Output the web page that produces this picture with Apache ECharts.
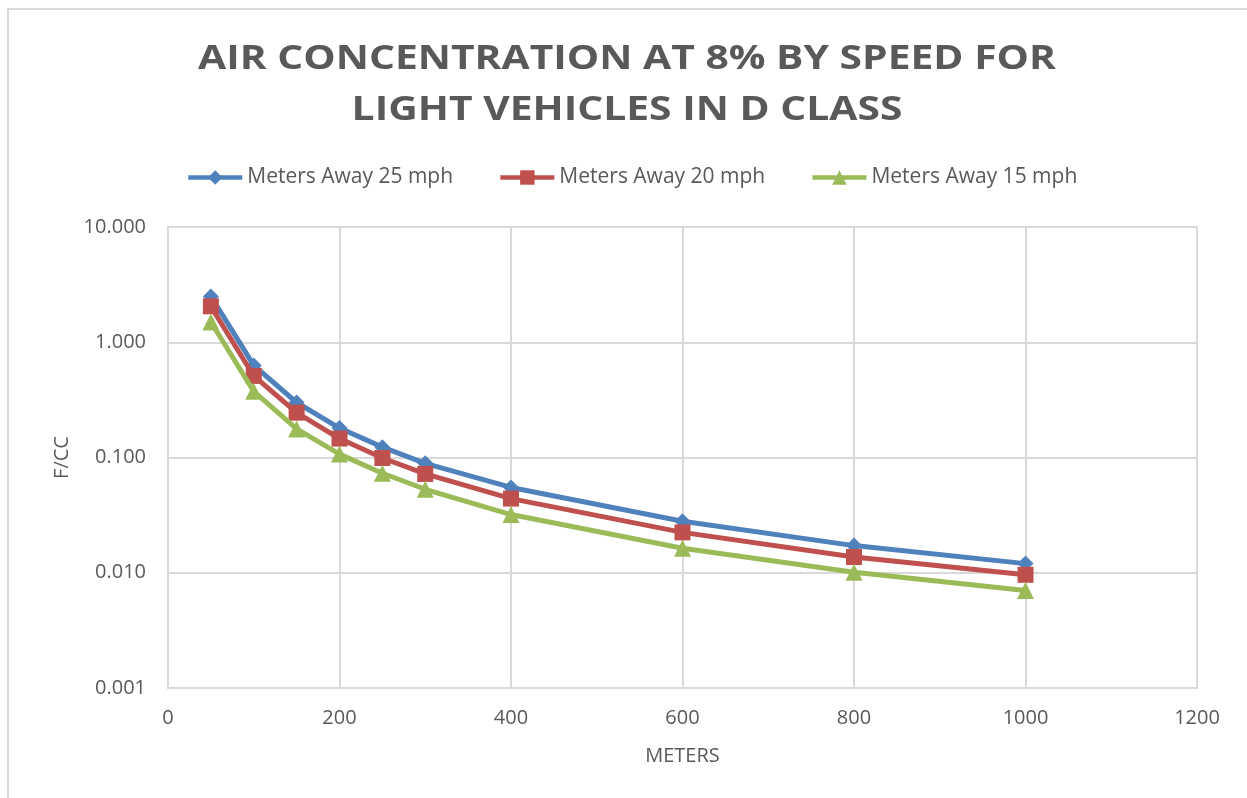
<!DOCTYPE html>
<html>
<head>
<meta charset="utf-8">
<title>Air concentration by speed</title>
<script src="https://cdn.jsdelivr.net/npm/echarts@6/dist/echarts.min.js"></script>
<style>
  html, body { margin: 0; padding: 0; background: #fff; }
  #main { width: 1247px; height: 798px; }
</style>
</head>
<body>
<div id="main"></div>
<script>
// distances in meters
const meters = [50, 100, 150, 200, 250, 300, 400, 600, 800, 1000];
// F/CC
const mph25 = [2.5, 0.63, 0.30, 0.18, 0.123, 0.089, 0.055, 0.028, 0.0172, 0.0120];
const mph20 = [2.05, 0.51, 0.245, 0.146, 0.099, 0.072, 0.044, 0.0224, 0.0137, 0.0096];
const mph15 = [1.5, 0.375, 0.177, 0.107, 0.073, 0.053, 0.032, 0.0163, 0.0101, 0.0070];

const seriesNames = ['Meters Away 25 mph', 'Meters Away 20 mph', 'Meters Away 15 mph'];
const colors = ['#4f81bd', '#c0504d', '#9bbb59'];

const textColor = '#595959';
const gridColor = '#d9d9d9';
const font = 'Open Sans';

function pairs(vals) {
  return meters.map((m, i) => [m, vals[i]]);
}

const chart = echarts.init(document.getElementById('main'), null, { renderer: 'canvas' });

const option = {
  backgroundColor: '#fff',
  color: colors,
  animation: false,
  graphic: [
    {
      type: 'rect',
      shape: { x: 8, y: 9, width: 1400, height: 1000 },
      style: { fill: 'none', stroke: gridColor, lineWidth: 2 },
      silent: true
    },
    {
      // title, stretched a bit to get the wide spacing of the original
      type: 'text',
      x: 627,
      y: 85,
      scaleX: 1.2,
      style: {
        text: 'AIR CONCENTRATION AT 8% BY SPEED FOR\nLIGHT VEHICLES IN D CLASS',
        fill: textColor,
        font: 'bold 34px "Open Sans"',
        lineHeight: 51,
        align: 'center',
        verticalAlign: 'middle'
      },
      silent: true
    }
  ],
  legend: {
    top: 162,
    left: 181,
    itemWidth: 54,
    itemHeight: 18,
    itemGap: 45,
    data: seriesNames,
    lineStyle: { width: 4.5 },
    textStyle: { color: textColor, fontFamily: font, fontSize: 21 }
  },
  grid: {
    left: 168,
    right: 50,
    top: 227,
    bottom: 110,
    show: true,
    borderColor: gridColor,
    borderWidth: 2
  },
  xAxis: {
    type: 'value',
    min: 0,
    max: 1200,
    interval: 200,
    name: 'METERS',
    nameLocation: 'middle',
    nameGap: 58,
    nameTextStyle: { color: textColor, fontFamily: font, fontSize: 20 },
    axisLine: { show: true, lineStyle: { color: gridColor, width: 2 } },
    axisTick: { show: false },
    axisLabel: { color: textColor, fontFamily: font, fontSize: 20, margin: 20, formatter: v => String(v) },
    splitLine: { show: true, lineStyle: { color: gridColor, width: 2 } }
  },
  yAxis: {
    type: 'log',
    logBase: 10,
    min: 0.001,
    max: 10,
    name: 'F/CC',
    nameLocation: 'middle',
    nameGap: 96,
    nameTextStyle: { color: textColor, fontFamily: font, fontSize: 20 },
    axisLine: { show: true, lineStyle: { color: gridColor, width: 2 } },
    axisTick: { show: false },
    axisLabel: {
      color: textColor,
      fontFamily: font,
      fontSize: 20,
      margin: 22,
      formatter: v => Number(v).toFixed(3)
    },
    splitLine: { show: true, lineStyle: { color: gridColor, width: 2 } },
    minorSplitLine: { show: false }
  },
  series: [
    {
      name: seriesNames[0],
      type: 'line',
      data: pairs(mph25),
      symbol: 'diamond',
      symbolSize: 16,
      lineStyle: { width: 5 },
      z: 3
    },
    {
      name: seriesNames[1],
      type: 'line',
      data: pairs(mph20),
      symbol: 'rect',
      symbolSize: 16,
      lineStyle: { width: 5 },
      z: 4
    },
    {
      name: seriesNames[2],
      type: 'line',
      data: pairs(mph15),
      symbol: 'triangle',
      symbolSize: 17,
      lineStyle: { width: 5 },
      z: 5
    }
  ]
};

chart.setOption(option);
window.addEventListener('resize', chart.resize);
</script>
</body>
</html>
